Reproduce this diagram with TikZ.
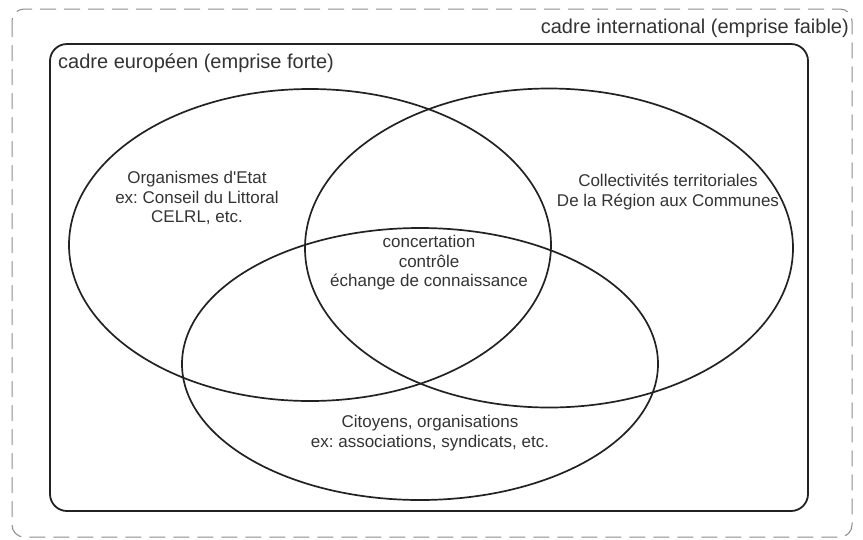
\documentclass[tikz,border=0pt]{standalone}
\usepackage{fontspec}
\setmainfont{Liberation Sans}
\usetikzlibrary{shapes.geometric}
\definecolor{trait}{HTML}{222222}
\definecolor{texte}{HTML}{333333}
\definecolor{tirets}{HTML}{8C8C8C}
\frenchspacing

\begin{document}
\begin{tikzpicture}[x=1pt, y=-1pt,
    cadre/.style={draw=trait, line width=1.8pt, rounded corners=17pt},
    monde/.style={draw=tirets, line width=1pt, dash pattern=on 16pt off 8pt, rounded corners=12pt},
    venn/.style={ellipse, draw=trait, line width=1.7pt, inner sep=0pt, outer sep=0pt},
    titre/.style={text=texte, font=\fontsize{20}{24}\selectfont, inner sep=0pt},
    etiq/.style={text=texte, align=center, font=\fontsize{17}{19.5}\selectfont, inner sep=0pt}
]
\useasboundingbox (0,0) rectangle (863,539);

% cadres
\draw[monde] (12,9) rectangle (852,537);
\draw[cadre] (50,44) rectangle (808,511);
\node[titre, anchor=base east] (inter) at (849,33) {cadre international (emprise faible)};
\node[titre, anchor=base west] (europe) at (58,68) {cadre européen (emprise forte)};

% les trois ensembles
\node[venn, minimum width=482pt, minimum height=312pt] (etat) at (310,245) {};
\node[venn, minimum width=488pt, minimum height=319pt] (collect) at (549,248) {};
\node[venn, minimum width=476pt, minimum height=272pt] (citoyens) at (420,364) {};

% textes
\node[etiq] (etat-t) at (197,198) {Organismes d\textquotesingle Etat\\ex: Conseil du Littoral\\CELRL, etc.};
\node[etiq] (collect-t) at (668,192) {Collectivités territoriales\\De la Région aux Communes};
\node[etiq] (centre-t) at (429,263) {concertation\\contrôle\\échange de connaissance};
\node[etiq] (citoyens-t) at (430,433) {Citoyens, organisations\\ex: associations, syndicats, etc.};

\end{tikzpicture}
\end{document}
